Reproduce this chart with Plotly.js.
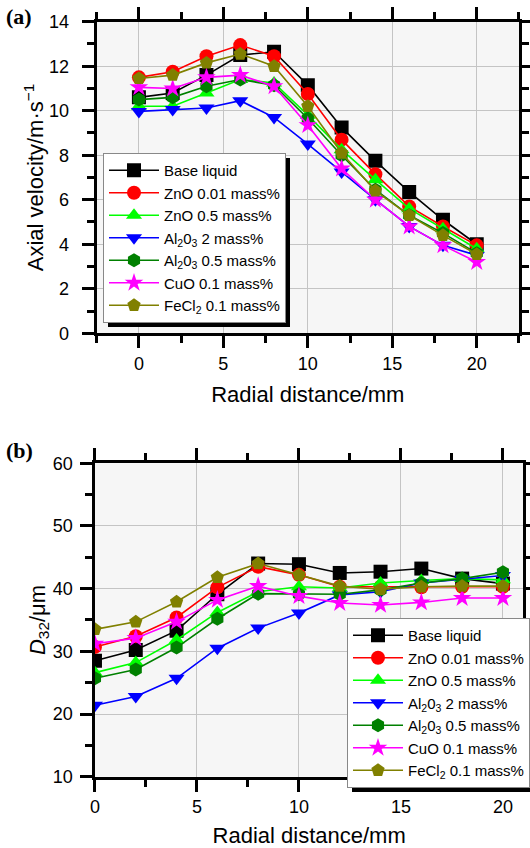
<!DOCTYPE html>
<html><head><meta charset="utf-8">
<script src="https://cdn.plot.ly/plotly-3.0.1.min.js"></script>
<style>html,body{margin:0;padding:0;background:#fff}#chart{width:530px;height:848px}</style>
</head><body><div id="chart"></div>
<script>
const radial = [0, 2, 4, 6, 8, 10, 12, 14, 16, 18, 20];
const seriesNames = ["Base liquid", "ZnO 0.01 mass%", "ZnO 0.5 mass%", "Al<sub>2</sub>0<sub>3</sub> 2 mass%", "Al<sub>2</sub>0<sub>3</sub> 0.5 mass%", "CuO 0.1 mass%", "FeCl<sub>2</sub> 0.1 mass%"];
const seriesColors = ["#000000", "#ff0000", "#00ff00", "#0000ff", "#008000", "#ff00ff", "#808000"];
const seriesSymbols = ["square", "circle", "triangle-up", "triangle-down", "hexagon", "star", "pentagon"];

// (a) Axial velocity, m/s
const velBase  = [10.6, 10.8, 11.6, 12.5, 12.65, 11.15, 9.25, 7.75, 6.35, 5.1, 4.0];
const velZnO001 = [11.5, 11.75, 12.45, 12.95, 12.45, 10.75, 8.7, 7.15, 5.7, 4.8, 3.95];
const velZnO05 = [10.2, 10.2, 10.8, 11.4, 11.25, 9.8, 8.25, 6.9, 5.6, 4.7, 3.8];
const velAl2 = [9.97, 10.05, 10.12, 10.45, 9.7, 8.5, 7.25, 6.0, 4.8, 3.95, 3.5];
const velAl05 = [10.5, 10.6, 11.1, 11.4, 11.15, 9.65, 8.0, 6.45, 5.3, 4.5, 3.6];
const velCuO = [11.05, 11.0, 11.5, 11.6, 11.1, 9.35, 7.4, 6.0, 4.8, 3.95, 3.2];
const velFeCl = [11.45, 11.6, 12.15, 12.55, 12.0, 10.2, 8.1, 6.4, 5.3, 4.4, 3.55];

// (b) D32, um
const d32Base  = [28.5, 30.2, 33.3, 39.1, 44.0, 43.9, 42.5, 42.7, 43.2, 41.6, 40.8];
const d32ZnO001 = [30.7, 32.4, 35.4, 40.2, 43.5, 42.2, 40.3, 40.3, 40.2, 40.3, 40.3];
const d32ZnO05 = [26.6, 28.2, 31.8, 36.2, 39.5, 40.3, 40.1, 40.9, 41.3, 41.6, 41.4];
const d32Al2 = [21.4, 22.8, 25.7, 30.5, 33.7, 36.1, 39.0, 39.5, 40.9, 41.5, 42.1];
const d32Al05 = [25.7, 27.1, 30.6, 35.2, 39.2, 39.1, 39.1, 39.8, 40.9, 41.6, 42.6];
const d32CuO = [31.2, 32.1, 34.7, 38.2, 40.4, 38.8, 37.7, 37.4, 37.8, 38.5, 38.5];
const d32FeCl = [33.5, 34.7, 37.9, 41.8, 44.0, 42.2, 40.4, 39.9, 40.3, 40.4, 40.4];

const velSeries = [velBase, velZnO001, velZnO05, velAl2, velAl05, velCuO, velFeCl];
const d32Series = [d32Base, d32ZnO001, d32ZnO05, d32Al2, d32Al05, d32CuO, d32FeCl];

const traces = [];
velSeries.forEach((ys, i) => traces.push({
  x: radial, y: ys, name: seriesNames[i], type: 'scatter', mode: 'lines+markers',
  xaxis: 'x', yaxis: 'y', legend: 'legend',
  line: {color: seriesColors[i], width: 1.6},
  marker: {symbol: seriesSymbols[i], color: seriesColors[i], size: 14, line: {width: 0}}
}));
d32Series.forEach((ys, i) => traces.push({
  x: radial, y: ys, name: seriesNames[i], type: 'scatter', mode: 'lines+markers',
  xaxis: 'x2', yaxis: 'y2', legend: 'legend2', line: {color: seriesColors[i], width: 1.6},
  marker: {symbol: seriesSymbols[i], color: seriesColors[i], size: 14, line: {width: 0}}
}));

const font = {family: 'Liberation Sans, Arial, sans-serif', size: 18, color: '#000'};
const titleFont = {family: 'Liberation Sans, Arial, sans-serif', size: 22, color: '#000'};
const minorTicks = (d) => ({dtick: d, ticklen: 7, tickwidth: 3, tickcolor: '#000', showgrid: false});
function ax(extra) {
  return Object.assign({
    showline: true, linecolor: '#000', linewidth: 3, mirror: 'allticks',
    ticks: 'outside', ticklen: 12, tickwidth: 3, tickcolor: '#000',
    showgrid: true, gridcolor: '#c4c4c4', gridwidth: 1, zeroline: false,
    tickfont: font, automargin: false
  }, extra);
}
const W = 530, H = 848;
const px = (v) => v / W, py = (v) => 1 - v / H;
const legendStyle = {xanchor: 'left', yanchor: 'top', bgcolor: '#fff', bordercolor: '#888', borderwidth: 1,
  font: {family: font.family, size: 15}, itemwidth: 50, tracegroupgap: 0};

const layout = {
  width: W, height: H, margin: {l: 0, r: 0, t: 0, b: 0, autoexpand: false},
  paper_bgcolor: '#fff', plot_bgcolor: '#f6f6f6', font: font,
  xaxis: ax({domain: [0.1824, 0.9792], anchor: 'y', range: [-2.5, 22.5], dtick: 5, tick0: 0,
    minor: minorTicks(2.5), title: {text: 'Radial distance/mm', font: titleFont, standoff: 14}}),
  yaxis: ax({domain: [0.6070, 0.9744], anchor: 'x', range: [0, 14], dtick: 2, ticksuffix: '\u2002',
    minor: minorTicks(1), title: {text: 'Axial velocity/m·s<sup>−1</sup>', font: titleFont, standoff: 0}}),
  xaxis2: ax({domain: [0.1792, 0.9874], anchor: 'y2', range: [0, 21], dtick: 5, tick0: 0,
    minor: minorTicks(2.5), title: {text: 'Radial distance/mm', font: titleFont, standoff: 12}}),
  yaxis2: ax({domain: [0.0841, 0.4537], anchor: 'x2', range: [10, 60], dtick: 10, ticksuffix: '\u2009',
    minor: minorTicks(5), title: {text: '<i>D</i><sub>32</sub>/μm', font: titleFont, standoff: 2}}),
  legend: Object.assign({x: px(103), y: py(153)}, legendStyle),
  legend2: Object.assign({x: px(347), y: py(618)}, legendStyle),
  shapes: [
    {type: 'rect', xref: 'paper', yref: 'paper', x0: px(108), x1: px(290), y0: py(327), y1: py(158),
     fillcolor: '#000', line: {width: 0}, layer: 'above'},
    {type: 'rect', xref: 'paper', yref: 'paper', x0: px(352), x1: px(530), y0: py(792), y1: py(623),
     fillcolor: '#000', line: {width: 0}, layer: 'above'}
  ],
  annotations: [
    {text: '<b>(a)</b>', xref: 'paper', yref: 'paper', x: 0.008, y: 0.998, xanchor: 'left', yanchor: 'top',
     showarrow: false, font: {family: 'Liberation Serif, Times New Roman, serif', size: 22, color: '#000'}},
    {text: '<b>(b)</b>', xref: 'paper', yref: 'paper', x: 0.008, y: 0.486, xanchor: 'left', yanchor: 'top',
     showarrow: false, font: {family: 'Liberation Serif, Times New Roman, serif', size: 22, color: '#000'}}
  ],
  showlegend: true
};

Plotly.newPlot('chart', traces, layout, {displayModeBar: false, staticPlot: true});
</script></body></html>
